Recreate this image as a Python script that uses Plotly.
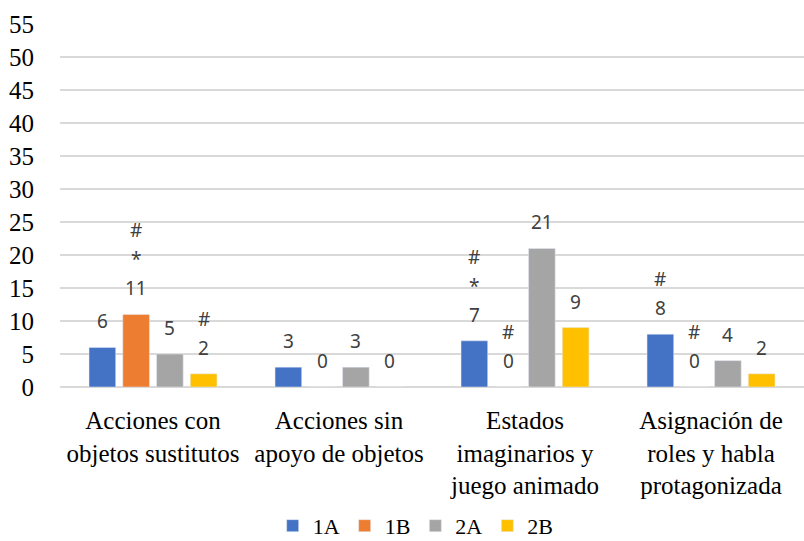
import plotly.graph_objects as go

# Categories of play behaviour (x axis)
categories = [
    "Acciones con<br>objetos sustitutos",
    "Acciones sin<br>apoyo de objetos",
    "Estados<br>imaginarios y<br>juego animado",
    "Asignación de<br>roles y habla<br>protagonizada",
]

# Counts per group
series_names = ["1A", "1B", "2A", "2B"]
values_1A = [6, 3, 7, 8]
values_1B = [11, 0, 0, 0]
values_2A = [5, 3, 21, 4]
values_2B = [2, 0, 9, 2]

# Significance marks printed above each value (top to bottom)
marks_1A = ["", "", "#*", "#"]
marks_1B = ["#*", "", "#", "#"]
marks_2A = ["", "", "", ""]
marks_2B = ["#", "", "", ""]

colors = ["#4472C4", "#ED7D31", "#A5A5A5", "#FFC000"]

y_ticks = list(range(0, 56, 5))

all_values = [values_1A, values_1B, values_2A, values_2B]
all_marks = [marks_1A, marks_1B, marks_2A, marks_2B]

BARGAP = 0.274
SLOT = (1 - BARGAP) / len(series_names)

serif = "Times New Roman"

fig = go.Figure()
for name, vals, col in zip(series_names, all_values, colors):
    fig.add_trace(go.Bar(name=name, x=categories, y=vals, marker_color=col))

fig.update_layout(
    width=804, height=541,
    font=dict(family=serif, size=25, color="black"),
    legend=dict(orientation="h", font=dict(family=serif, size=22)),
)

# Value labels and significance marks above each bar
label_font = dict(family="Noto Sans", size=19, color="#404040")
for i, (vals, marks) in enumerate(zip(all_values, all_marks)):
    offset = (i - (len(series_names) - 1) / 2) * SLOT
    for j, (v, m) in enumerate(zip(vals, marks)):
        xpos = j + offset
        fig.add_annotation(
            x=xpos, y=v, xref="x", yref="y", text=str(v), showarrow=False,
            yanchor="middle", yshift=26, font=label_font,
        )
        for k, sym in enumerate(reversed(m)):
            fig.add_annotation(
                x=xpos, y=v, xref="x", yref="y", text=sym, showarrow=False,
                yanchor="middle", yshift=26 + 29 * (k + 1), font=label_font,
            )

fig.update_yaxes(
    tickfont=dict(family=serif, size=25),
    range=[0, 55], tickvals=y_ticks, showgrid=True,
    gridcolor="#D9D9D9", gridwidth=2, zeroline=True,
    zerolinecolor="#D9D9D9", zerolinewidth=2, showline=False,
    ticks="outside", ticklen=20, tickcolor="white",
)
fig.update_xaxes(
    tickfont=dict(family=serif, size=25),
    type="category", showgrid=False, showline=False, zeroline=False,
    ticks="outside", ticklen=11, tickcolor="white",
)
fig.update_layout(
    margin=dict(l=60, r=0, t=24, b=154),
    paper_bgcolor="white", plot_bgcolor="white",
    barmode="group", bargap=BARGAP, bargroupgap=0.21,
    showlegend=True,
)
fig.update_layout(
    legend=dict(xref="container", yref="container", x=0.517, xanchor="center",
                y=0.028, yanchor="middle", traceorder="normal"),
)

fig.write_html("out.html")
